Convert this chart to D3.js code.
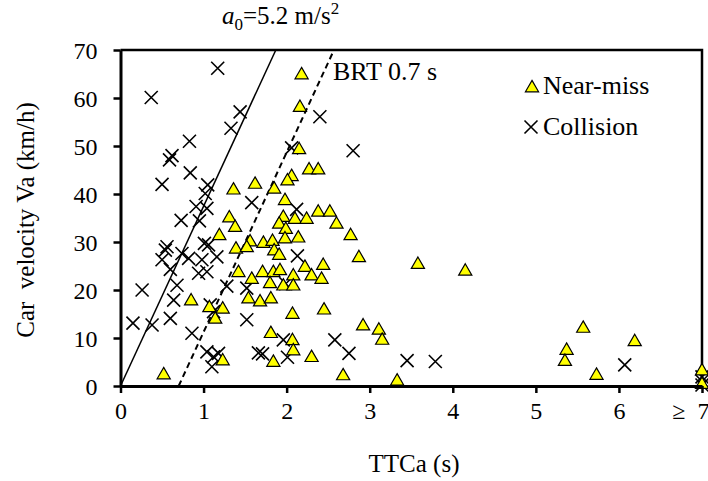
<!DOCTYPE html>
<html>
<head>
<meta charset="utf-8">
<script src="https://cdn.jsdelivr.net/npm/d3@7"></script>
<style>
  body { margin: 0; background: #fff; }
  svg text { font-family: 'Liberation Serif', 'Times New Roman', serif; fill: #000; }
</style>
</head>
<body>
<div id="chart"></div>
<script>
// TTCa (s), car velocity Va (km/h)
const nearMissTTC = [2.18, 2.16, 2.15, 2.27, 2.38, 2.06, 2.01, 1.62, 1.85, 1.36, 1.98, 2.38, 2.52, 1.31,
  1.38, 1.19, 1.39, 1.56, 1.52, 1.42, 1.58, 1.54, 0.85, 1.07, 1.23, 1.14, 1.23, 0.52,
  1.96, 1.91, 2.10, 2.24, 2.60, 1.99, 2.77, 1.72, 1.83, 1.98, 2.14, 1.85, 1.91, 2.87,
  2.22, 2.44, 2.30, 2.42, 1.71, 1.84, 1.92, 1.80, 1.96, 2.08, 2.08, 1.68, 1.81, 2.07,
  2.45, 2.92, 3.11, 3.15, 1.81, 2.07, 2.08, 1.84, 2.30, 2.68, 3.58, 4.15, 3.33,
  5.57, 5.37, 5.35, 5.73, 6.19, 7, 7];
const nearMissVa = [65, 58.2, 49.4, 45.2, 45.2, 43.8, 42.9, 42.2, 41.2, 41.0, 38.8, 36.4, 36.4, 35.2,
  33.2, 31.5, 28.7, 30.2, 29.0, 23.8, 22.4, 18.3, 17.9, 16.5, 16.2, 14.1, 5.4, 2.5,
  35.3, 33.9, 34.9, 34.9, 33.9, 32.8, 31.5, 29.9, 30.3, 30.8, 31.0, 28.3, 27.4, 26.9,
  24.9, 25.3, 23.1, 22.4, 23.8, 23.8, 24.2, 21.5, 21.0, 23.1, 21.0, 17.7, 18.3, 15.1,
  16.0, 12.7, 11.8, 9.7, 11.1, 9.6, 7.5, 5.1, 6.1, 2.3, 25.5, 24.1, 1.2,
  12.2, 7.6, 5.3, 2.4, 9.4, 3.3, 0.5];

const collisionTTC = [1.17, 0.37, 1.44, 1.33, 0.83, 0.62, 0.59, 0.84, 0.50, 1.05, 1.02, 1.58, 0.91, 1.04,
  0.73, 0.95, 2.06, 2.40, 2.80, 2.12,
  0.56, 0.54, 1.01, 1.06, 0.50, 0.74, 0.82, 0.98, 1.16, 0.94, 1.04, 0.60, 0.68, 0.26,
  0.64, 1.28, 1.08, 1.12, 0.15, 0.38, 0.60, 0.86, 1.52, 1.04, 1.12, 1.10, 1.18, 1.66, 1.52,
  2.13, 1.99, 1.96, 1.71, 2.01, 2.58, 2.75, 3.45, 3.79, 6.07, 7, 7, 7];
const collisionVa = [66.2, 60.1, 57.1, 53.7, 51.0, 48.0, 47.1, 44.4, 42.0, 41.9, 40.1, 38.2, 37.4, 37.0,
  34.5, 34.4, 49.6, 56.1, 49.0, 36.8,
  29.0, 28.3, 29.7, 29.4, 26.3, 27.6, 26.6, 26.3, 26.9, 23.5, 23.8, 24.3, 21.0, 20.0,
  17.9, 20.8, 16.9, 15.5, 13.1, 12.7, 14.1, 11.0, 13.8, 7.1, 6.1, 4.0, 6.8, 6.9, 20.4,
  27.1, 21.3, 9.6, 6.7, 6.0, 9.6, 6.8, 5.3, 5.1, 4.4, 1.9, 1.0, 0.2];

const xTicks = [0, 1, 2, 3, 4, 5, 6, 7];
const yTicks = [0, 10, 20, 30, 40, 50, 60, 70];
const a0 = 5.2;      // m/s^2
const brt = 0.7;     // s
const lineVa = [0, 70];

const serif = "'Liberation Serif', 'Times New Roman', serif";
const width = 708, height = 481;
const margin = { top: 50, right: 6, bottom: 95, left: 120.5 };

const svg = d3.select('#chart').append('svg')
  .attr('width', width)
  .attr('height', height)
  .attr('font-family', serif);

const x = d3.scaleLinear().domain([0, 7]).range([margin.left, width - margin.right]);
const y = d3.scaleLinear().domain([0, 70]).range([height - margin.bottom, margin.top]);

// plot box (top and right)
svg.append('path')
  .attr('d', `M${x(0)},${y(70)}H${x(7)}V${y(0)}`)
  .attr('fill', 'none')
  .attr('stroke', '#000')
  .attr('stroke-width', 2.5);

// reference lines: TTC = v / (2 a0) and BRT + v / (2 a0)
const ttcLine = (offset) => d3.line()
  .x(v => x(offset + v / 3.6 / (2 * a0)))
  .y(v => y(v));

svg.append('path')
  .attr('d', ttcLine(0)(lineVa))
  .attr('fill', 'none')
  .attr('stroke', '#000')
  .attr('stroke-width', 1.5);

svg.append('path')
  .attr('d', ttcLine(brt)(lineVa))
  .attr('fill', 'none')
  .attr('stroke', '#000')
  .attr('stroke-width', 2)
  .attr('stroke-dasharray', '6,4');

// markers
const triangle = d3.symbol().type(d3.symbolTriangle).size(75);
const crossPath = (s) => `M${-s},${-s}L${s},${s}M${-s},${s}L${s},${-s}`;

svg.append('g').selectAll('path')
  .data(collisionTTC.map((t, i) => [t, collisionVa[i]]))
  .enter()
  .append('path')
  .attr('transform', d => `translate(${x(d[0])},${y(d[1])})`)
  .attr('d', crossPath(6.5))
  .attr('stroke', '#000')
  .attr('stroke-width', 1.6)
  .attr('fill', 'none');

svg.append('g').selectAll('path')
  .data(nearMissTTC.map((t, i) => [t, nearMissVa[i]]))
  .enter()
  .append('path')
  .attr('transform', d => `translate(${x(d[0])},${y(d[1]) + 1})`)
  .attr('d', triangle)
  .attr('fill', '#ffff00')
  .attr('stroke', '#000')
  .attr('stroke-width', 1.2);

// axes
const xAxis = svg.append('g')
  .attr('transform', `translate(0,${y(0)})`)
  .call(d3.axisBottom(x).tickValues(xTicks).tickSize(7).tickSizeOuter(0)
    .tickFormat(d => d === 7 ? '≥  7' : d));
const yAxis = svg.append('g')
  .attr('transform', `translate(${x(0)},0)`)
  .call(d3.axisLeft(y).tickValues(yTicks).tickSize(7).tickSizeOuter(0));

[xAxis, yAxis].forEach(g => {
  g.attr('font-family', serif).attr('font-size', 24);
  g.select('.domain').attr('stroke-width', 3);
  g.selectAll('.tick line').attr('stroke-width', 2.5);
  g.selectAll('.tick text').attr('font-family', serif);
});
xAxis.selectAll('.tick text').attr('dy', null).attr('y', 33).style('white-space', 'pre');
xAxis.selectAll('.tick text').filter(d => d === 7).attr('text-anchor', 'end').attr('dx', 7);
yAxis.selectAll('.tick text').attr('x', -23).attr('dy', '0.35em');

// axis titles
svg.append('text')
  .attr('x', 414)
  .attr('y', 472)
  .attr('text-anchor', 'middle')
  .attr('font-size', 25)
  .text('TTCa (s)');

svg.append('text')
  .attr('transform', `translate(34,${(y(0) + y(70)) / 2 + 2}) rotate(-90)`)
  .attr('text-anchor', 'middle')
  .attr('font-size', 25)
  .style('white-space', 'pre')
  .text('Car  velocity Va (km/h)');

// line labels
const title = svg.append('text')
  .attr('x', 222)
  .attr('y', 24)
  .attr('font-size', 25);
title.append('tspan').style('font-style', 'italic').text('a');
title.append('tspan').attr('dy', 6).attr('font-size', 17).text('0');
title.append('tspan').attr('dy', -6).text('=5.2 m/s');
title.append('tspan').attr('dy', -10).attr('font-size', 17).text('2');

svg.append('text')
  .attr('x', 333)
  .attr('y', 80)
  .attr('font-size', 26)
  .text('BRT 0.7 s');

// legend
const legend = svg.append('g');
legend.append('path')
  .attr('transform', 'translate(532,88)')
  .attr('d', triangle)
  .attr('fill', '#ffff00')
  .attr('stroke', '#000')
  .attr('stroke-width', 1.2);
legend.append('path')
  .attr('transform', 'translate(531,127)')
  .attr('d', crossPath(6.5))
  .attr('stroke', '#000')
  .attr('stroke-width', 1.6);
legend.append('text').attr('x', 543).attr('y', 94).attr('font-size', 26).text('Near-miss');
legend.append('text').attr('x', 543).attr('y', 135).attr('font-size', 26).text('Collision');
</script>
</body>
</html>
